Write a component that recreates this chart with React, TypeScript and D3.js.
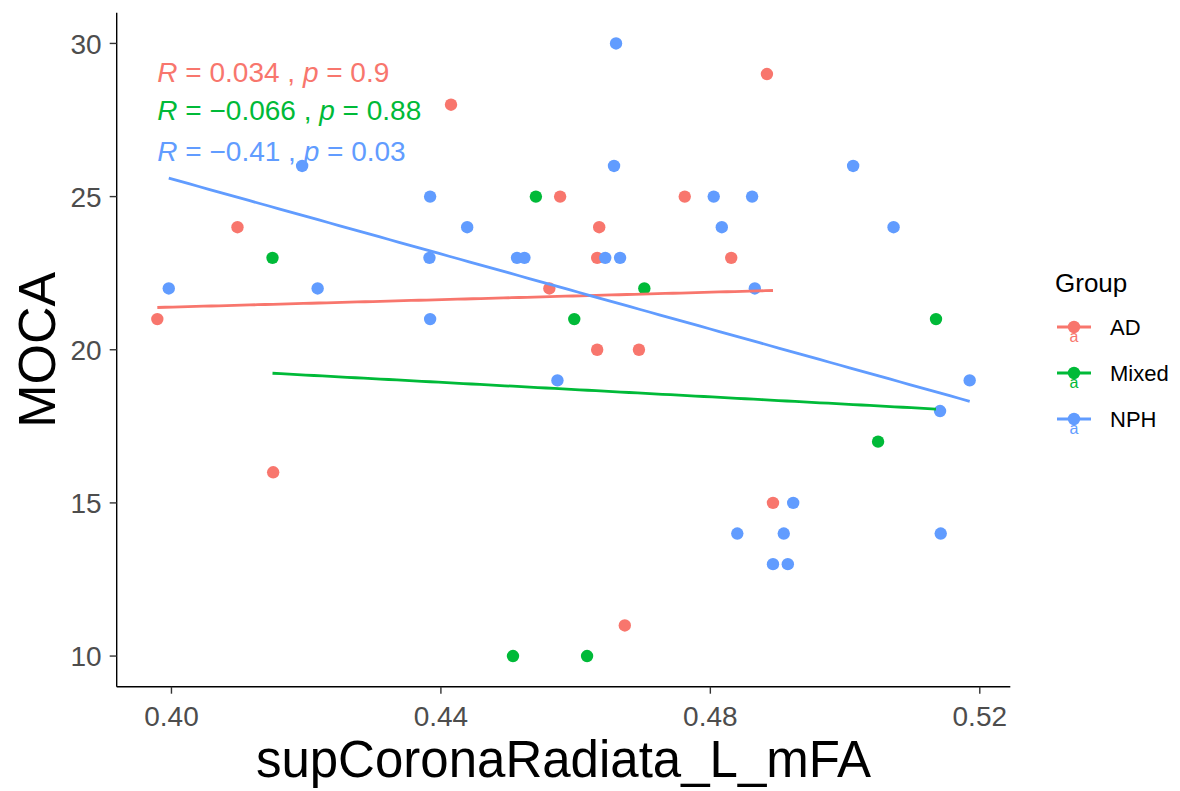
import React from "react";
import * as d3 from "d3";

const groups = ["AD", "Mixed", "NPH"];
const colors = ["#F8766D", "#00BA38", "#619CFF"];

const adX = [0.3979, 0.4098, 0.4151, 0.4415, 0.4561, 0.4577, 0.4632, 0.4635, 0.4632, 0.4694, 0.4673, 0.4762, 0.4831, 0.4884, 0.4893];
const adY = [21, 24, 16, 28, 22, 25, 23, 24, 20, 20, 11, 25, 23, 29, 15];

const mixedX = [0.415, 0.4541, 0.4702, 0.4598, 0.5135, 0.5049, 0.4507, 0.4617];
const mixedY = [23, 25, 22, 21, 21, 17, 10, 10];

const nphX = [0.3996, 0.4194, 0.4384, 0.4439, 0.4383, 0.4513, 0.4524, 0.4217, 0.4384, 0.466, 0.4657, 0.4805, 0.4862, 0.4817, 0.5012, 0.5072, 0.4644, 0.4666, 0.4866, 0.4573, 0.5185, 0.5141, 0.4923, 0.484, 0.4909, 0.5142, 0.4893, 0.4915];
const nphY = [22, 26, 25, 24, 23, 23, 23, 22, 21, 30, 26, 25, 25, 24, 26, 24, 23, 23, 22, 19, 19, 18, 15, 14, 14, 14, 13, 13];

const corLabels = [
  { r: "0.034", p: "0.9" },
  { r: "\u22120.066", p: "0.88" },
  { r: "\u22120.41", p: "0.03" },
];
const labelYValues = [29.07, 27.83, 26.49];

const xTicks = [0.4, 0.44, 0.48, 0.52];
const yTicks = [10, 15, 20, 25, 30];
const xTitle = "supCoronaRadiata_L_mFA";
const yTitle = "MOCA";
const legendTitle = "Group";

const W = 1180, H = 791;
const panel = { left: 116.7, right: 1010.3, top: 12.8, bottom: 686.7 };
const FONT = "'Liberation Sans', Arial, sans-serif";

function fit(xs: number[], ys: number[]) {
  const mx = d3.mean(xs)!, my = d3.mean(ys)!;
  let sxy = 0, sxx = 0;
  xs.forEach((x, i) => { sxy += (x - mx) * (ys[i] - my); sxx += (x - mx) ** 2; });
  const b = sxy / sxx;
  const a = my - b * mx;
  return (x: number) => a + b * x;
}

export default function App() {
  const series = [
    { xs: adX, ys: adY },
    { xs: mixedX, ys: mixedY },
    { xs: nphX, ys: nphY },
  ];
  const allX = series.flatMap(s => s.xs);
  const allY = series.flatMap(s => s.ys);
  const [x0, x1] = d3.extent(allX) as [number, number];
  const [y0, y1] = d3.extent(allY) as [number, number];
  const ex = (x1 - x0) * 0.05, ey = (y1 - y0) * 0.05;
  const xs = d3.scaleLinear().domain([x0 - ex, x1 + ex]).range([panel.left, panel.right]);
  const ys = d3.scaleLinear().domain([y0 - ey, y1 + ey]).range([panel.bottom, panel.top]);
  const line = d3.line<number[]>().x(d => xs(d[0])).y(d => ys(d[1]));

  const legendY = [327, 373, 419];

  return (
    <svg width={W} height={H} style={{ position: "absolute", left: 0, top: 0, background: "#fff" }} fontFamily={FONT}>
      <rect width={W} height={H} fill="#fff" />
      {series.map((s, gi) => (
        <g key={gi}>
          {s.xs.map((x, i) => (
            <circle key={i} cx={xs(x)} cy={ys(s.ys[i])} r={6.2} fill={colors[gi]} />
          ))}
        </g>
      ))}
      {series.map((s, gi) => {
        const f = fit(s.xs, s.ys);
        const [a, b] = d3.extent(s.xs) as [number, number];
        const pts = d3.range(0, 81).map(k => { const x = a + (b - a) * k / 80; return [x, f(x)]; });
        return <path key={gi} d={line(pts)!} fill="none" stroke={colors[gi]} strokeWidth={2.8} />;
      })}
      {corLabels.map((l, i) => (
        <text key={i} x={xs(x0)} y={ys(labelYValues[i])} dy="0.36em" fontSize={28} fill={colors[i]}>
          <tspan fontStyle="italic">R</tspan>
          <tspan>{" = " + l.r + " , "}</tspan>
          <tspan fontStyle="italic">p</tspan>
          <tspan>{" = " + l.p}</tspan>
        </text>
      ))}
      <line x1={panel.left} x2={panel.left} y1={panel.top} y2={panel.bottom} stroke="#000" strokeWidth={1.4} />
      <line x1={panel.left} x2={panel.right} y1={panel.bottom} y2={panel.bottom} stroke="#000" strokeWidth={1.4} />
      {xTicks.map(t => (
        <g key={t}>
          <line x1={xs(t)} x2={xs(t)} y1={panel.bottom} y2={panel.bottom + 7} stroke="#333" strokeWidth={1.4} />
          <text x={xs(t)} y={panel.bottom + 39} textAnchor="middle" fontSize={28} fill="#4D4D4D">{d3.format(".2f")(t)}</text>
        </g>
      ))}
      {yTicks.map(t => (
        <g key={t}>
          <line x1={panel.left - 7} x2={panel.left} y1={ys(t)} y2={ys(t)} stroke="#333" strokeWidth={1.4} />
          <text x={panel.left - 15} y={ys(t)} dy="0.36em" textAnchor="end" fontSize={28} fill="#4D4D4D">{t}</text>
        </g>
      ))}
      <text x={(panel.left + panel.right) / 2} y={777} textAnchor="middle" fontSize={51} fill="#000">{xTitle}</text>
      <text transform={`translate(55, ${(panel.top + panel.bottom) / 2}) rotate(-90)`} textAnchor="middle" fontSize={52} fill="#000">{yTitle}</text>
      <text x={1055} y={292} fontSize={26} fill="#000">{legendTitle}</text>
      {groups.map((g, i) => (
        <g key={g}>
          <line x1={1057} x2={1091} y1={legendY[i]} y2={legendY[i]} stroke={colors[i]} strokeWidth={2.8} />
          <circle cx={1074} cy={legendY[i]} r={6.2} fill={colors[i]} />
          <text x={1074} y={legendY[i] + 15} textAnchor="middle" fontSize={16} fill={colors[i]}>a</text>
          <text x={1110} y={legendY[i]} dy="0.36em" fontSize={22} fill="#000">{g}</text>
        </g>
      ))}
    </svg>
  );
}
